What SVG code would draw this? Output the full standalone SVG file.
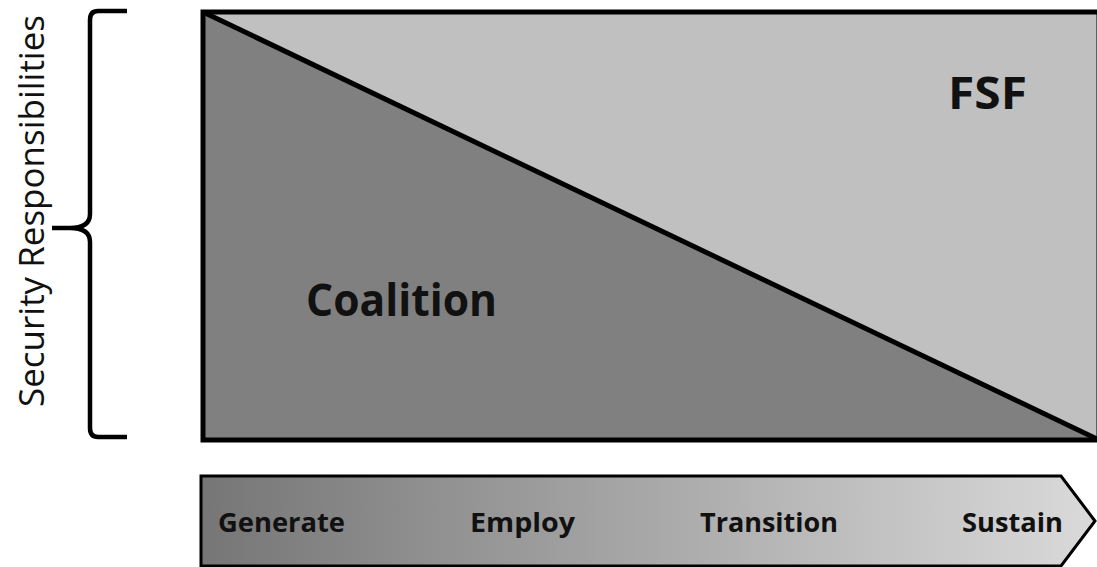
<svg xmlns="http://www.w3.org/2000/svg" width="1097" height="567" viewBox="0 0 1097 567">
<defs>
<linearGradient id="arrowGrad" x1="0" y1="0" x2="1" y2="0">
<stop offset="0" stop-color="#767676"/>
<stop offset="1" stop-color="#dadada"/>
</linearGradient>
</defs>
<style>
.lbl{font-family:"Open Sans","Liberation Sans",sans-serif;font-weight:bold;fill:#111;}
.edge{stroke:#000;stroke-width:5;fill:none;stroke-linejoin:miter;}
</style>
<rect width="1097" height="567" fill="#fff"/>
<g id="fsf">
<polygon points="203,12 1099,12 1099,440" fill="#c0c0c0"/>
<text class="lbl" x="948" y="109" font-size="44" textLength="79" lengthAdjust="spacingAndGlyphs">FSF</text>
</g>
<g id="coalition">
<polygon points="203,12 1099,440 203,440" fill="#808080"/>
<text class="lbl" x="306" y="316" font-size="45" textLength="191" lengthAdjust="spacingAndGlyphs">Coalition</text>
</g>
<g id="connectors">
<rect class="edge" x="203" y="12" width="896" height="428"/>
<line class="edge" x1="203" y1="12" x2="1099" y2="440"/>
</g>
<g id="brace">
<path d="M127,11 L98,11 Q90,11 90,20 L90,214 Q90,228 70,228 L52,228 M70,228 Q90,228 90,242 L90,428 Q90,437 98,437 L127,437" fill="none" stroke="#000" stroke-width="4.5"/>
<text transform="translate(44,211) rotate(-90)" text-anchor="middle" font-family="'Open Sans','Liberation Sans',sans-serif" font-size="35" fill="#111" textLength="392" lengthAdjust="spacingAndGlyphs">Security  Responsibilities</text>
</g>
<g id="phases">
<polygon points="201,476 1061,476 1095,521 1061,566 201,566" fill="url(#arrowGrad)" stroke="#000" stroke-width="3"/>
<text class="lbl" x="218" y="532" font-size="27" textLength="127" lengthAdjust="spacingAndGlyphs">Generate</text>
<text class="lbl" x="470" y="532" font-size="27" textLength="105" lengthAdjust="spacingAndGlyphs">Employ</text>
<text class="lbl" x="700" y="532" font-size="27" textLength="138" lengthAdjust="spacingAndGlyphs">Transition</text>
<text class="lbl" x="962" y="532" font-size="27" textLength="101" lengthAdjust="spacingAndGlyphs">Sustain</text>
</g>
</svg>
